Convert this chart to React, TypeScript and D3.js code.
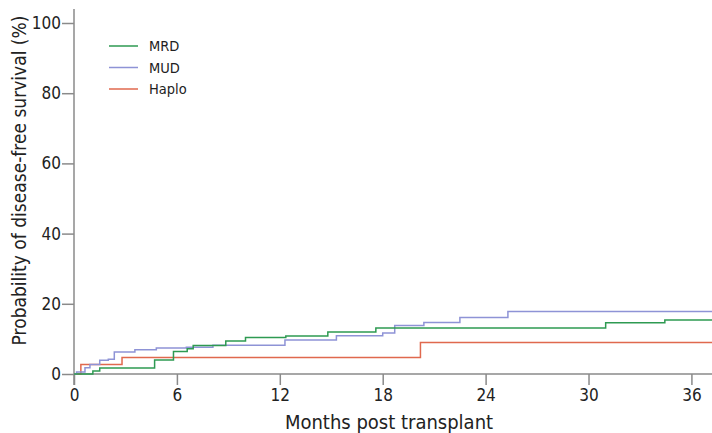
import { useEffect, useRef } from 'react';
import * as d3 from 'd3';

const seriesNames = ['MRD', 'MUD', 'Haplo'];
const seriesColors = ['#2e9a52', '#8e93d6', '#e0694e'];

const mrdMonths = [0, 1.1, 1.5, 4.7, 5.8, 6.6, 6.95, 8.85, 10.0, 12.35, 14.8, 17.6, 31.0, 34.45];
const mrdValues = [0, 0.85, 1.7, 4.0, 6.4, 7.2, 8.1, 9.4, 10.4, 10.8, 12.0, 13.1, 14.6, 15.4];

const mudMonths = [0, 0.15, 0.64, 0.93, 1.5, 2.0, 2.35, 3.55, 4.8, 6.55, 8.1, 12.3, 15.3, 18.0, 18.7, 20.4, 22.5, 25.3];
const mudValues = [0, 0.6, 1.8, 2.7, 3.9, 4.2, 6.3, 6.9, 7.4, 7.6, 8.2, 9.7, 10.9, 11.7, 13.8, 14.7, 16.1, 17.8];

const haploMonths = [0, 0.4, 2.8, 20.2];
const haploValues = [0, 2.7, 4.7, 9.0];

const xTicks = [0, 6, 12, 18, 24, 30, 36];
const yTicks = [0, 20, 40, 60, 80, 100];
const maxMonth = 37.2;

const FONT = '"Liberation Sans Narrow", "DejaVu Sans Condensed", Roboto, sans-serif';

export default function App() {
  const svgRef = useRef<SVGSVGElement>(null);

  useEffect(() => {
    if (!svgRef.current) return;
    const width = 712;
    const height = 433;
    const margin = { top: 23, right: 0, bottom: 59, left: 74 };

    const svg = d3.select(svgRef.current);
    svg.selectAll('*').remove();

    const x = d3.scaleLinear().domain([0, maxMonth]).range([margin.left, width - margin.right]);
    const y = d3.scaleLinear().domain([0, 100]).range([height - margin.bottom, margin.top]);

    const axisColor = '#8a8a8a';

    // y axis
    const gy = svg.append('g').attr('transform', `translate(${margin.left},0)`)
      .call(d3.axisLeft(y).tickValues(yTicks).tickSize(12).tickPadding(1));
    gy.select('.domain').attr('stroke', axisColor).attr('stroke-width', 1.5)
      .attr('d', `M0,${y(0) + 11}V${y(100) - 14}`);
    gy.selectAll('.tick line').attr('stroke', axisColor).attr('stroke-width', 1.5);
    gy.selectAll('.tick text').attr('fill', '#222').attr('font-size', 17).attr('font-family', FONT);

    // x axis
    const gx = svg.append('g').attr('transform', `translate(0,${y(0)})`)
      .call(d3.axisBottom(x).tickValues(xTicks).tickSize(11).tickPadding(4));
    gx.select('.domain').attr('stroke', axisColor).attr('stroke-width', 1.5)
      .attr('d', `M${margin.left},0H${width}`);
    gx.selectAll('.tick line').attr('stroke', axisColor).attr('stroke-width', 1.5);
    gx.selectAll('.tick text').attr('fill', '#222').attr('font-size', 17).attr('font-family', FONT);

    // titles
    svg.append('text')
      .attr('transform', `translate(26,${(y(0) + y(100)) / 2 - 18}) rotate(-90)`)
      .attr('text-anchor', 'middle')
      .attr('font-family', FONT).attr('font-size', 19).attr('fill', '#222')
      .text('Probability of disease-free survival (%)');

    svg.append('text')
      .attr('x', 389).attr('y', 429)
      .attr('text-anchor', 'middle')
      .attr('font-family', FONT).attr('font-size', 20).attr('fill', '#222')
      .text('Months post transplant');

    // curves
    const series = [
      { months: mrdMonths, values: mrdValues },
      { months: mudMonths, values: mudValues },
      { months: haploMonths, values: haploValues },
    ];
    const line = d3.line<[number, number]>()
      .x(d => x(d[0])).y(d => y(d[1]))
      .curve(d3.curveStepAfter);

    // draw in order: Haplo, MUD, MRD
    [2, 1, 0].forEach(i => {
      const s = series[i];
      const pts: [number, number][] = s.months.map((m, j) => [m, s.values[j]]);
      pts.push([maxMonth, s.values[s.values.length - 1]]);
      svg.append('path').datum(pts).attr('d', line)
        .attr('fill', 'none').attr('stroke', seriesColors[i]).attr('stroke-width', 1.5);
    });

    // legend
    const legend = svg.append('g');
    seriesNames.forEach((name, i) => {
      const ly = 46 + i * 21.5;
      legend.append('line')
        .attr('x1', 109).attr('x2', 138).attr('y1', ly).attr('y2', ly)
        .attr('stroke', seriesColors[i]).attr('stroke-width', 1.5);
      legend.append('text')
        .attr('x', 149).attr('y', ly + 5)
        .attr('font-family', FONT).attr('font-size', 14.5).attr('fill', '#222')
        .text(name);
    });
  }, []);

  return (
    <svg
      ref={svgRef}
      width={712}
      height={433}
      style={{ position: 'absolute', left: 0, top: 0, background: '#fff' }}
    />
  );
}
